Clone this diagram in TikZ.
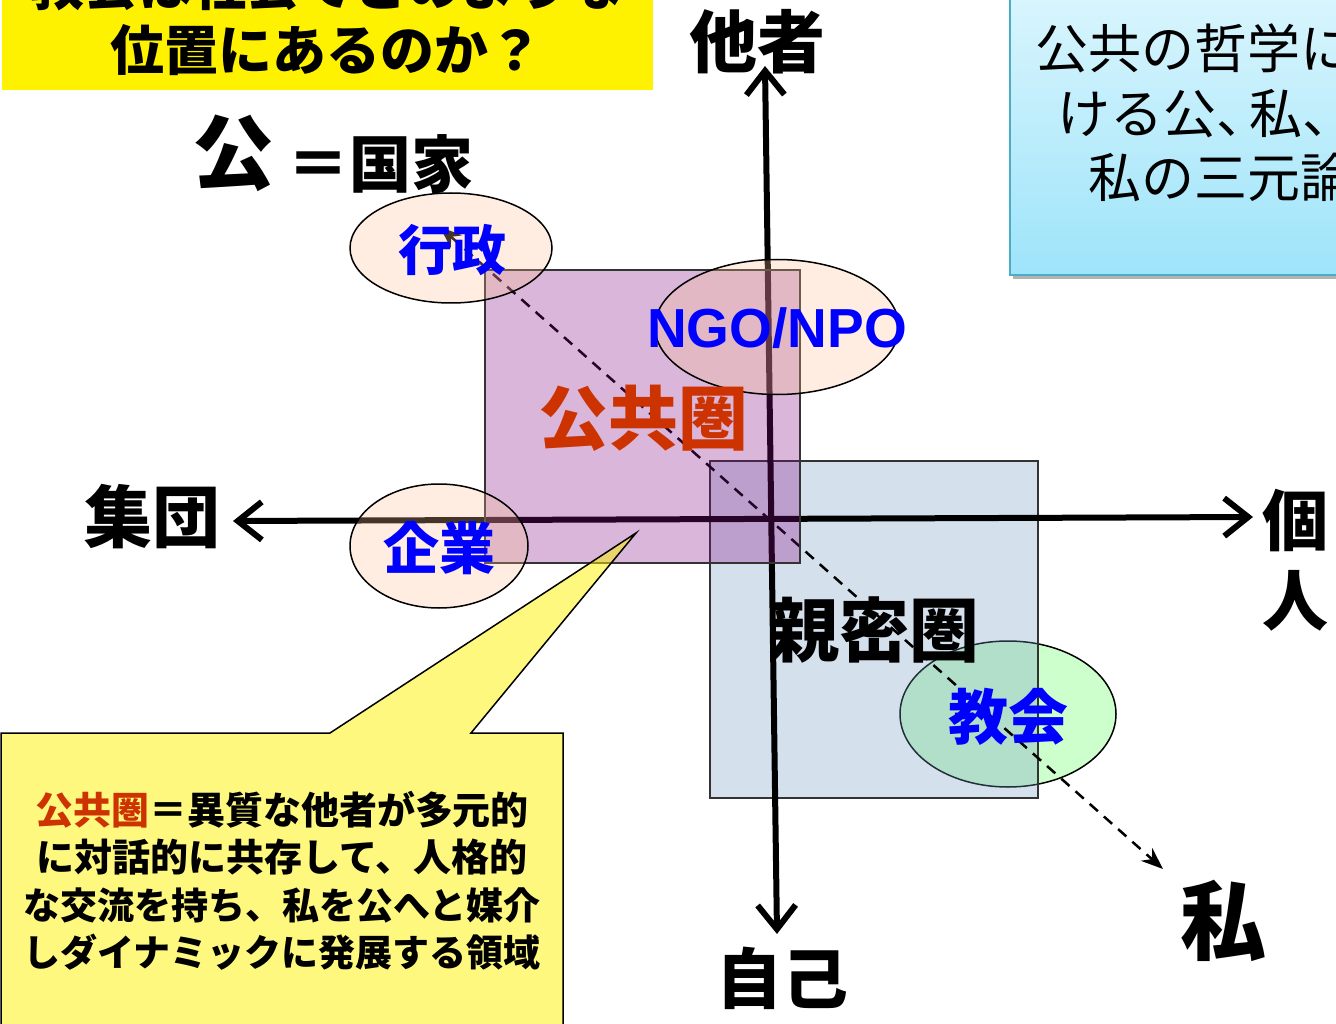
\documentclass[tikz,border=0pt]{standalone}
\usepackage{fontspec}
\newfontfamily\jp{Noto Sans CJK JP}
\setmainfont{Liberation Sans}
\usetikzlibrary{arrows.meta,shapes.geometric}
\newcommand\pxsize[1]{\fontsize{#1}{#1}\selectfont}
\definecolor{peach}{RGB}{250,192,144}
\definecolor{pinkp}{RGB}{132,12,132}
\definecolor{bluep}{RGB}{115,152,195}
\definecolor{greenp}{RGB}{204,255,204}
\definecolor{orgred}{RGB}{204,51,0}
\definecolor{tblue}{RGB}{0,0,255}
\definecolor{cyantop}{RGB}{220,246,253}
\definecolor{cyanbot}{RGB}{158,228,250}
\definecolor{cyanborder}{RGB}{75,172,198}
\begin{document}
\begin{tikzpicture}[x=1pt,y=-1pt,
  lbl/.style={inner sep=0pt, font=\jp\bfseries},
  ell/.style={ellipse, draw=black, line width=1.5pt, inner sep=0pt},
  peachell/.style={ell, fill=peach, fill opacity=0.28},
  areabox/.style={draw=black!80, line width=1.5pt},
  axisline/.style={line width=6pt, {Straight Barb[length=24pt,width=38pt]}-{Straight Barb[length=24pt,width=38pt]}},
  dasharrow/.style={line width=2.5pt, dash pattern=on 11pt off 8pt, {Stealth[length=22pt,width=17pt]}-{Stealth[length=22pt,width=17pt]}}]
\useasboundingbox (0,0) rectangle (1336,1024);

% title box
\fill[yellow] (2,-20) rectangle (653,90);
\node[lbl, align=center, font=\jp\bfseries\fontsize{54}{65}\selectfont] (title) at (327,17) {教会は社会でどのような\\位置にあるのか？};

% top-right box
\fill[black!30] (1013,-20) rectangle (1350,279);
\shade[top color=cyantop, bottom color=cyanbot, draw=cyanborder, line width=2pt] (1010,-20) rectangle (1350,275);
\node[inner sep=0pt, anchor=west, font=\jp\pxsize{53}] (tr1) at (1035,48) {公共の哲学にお};
\node[inner sep=0pt, anchor=west, font=\jp\pxsize{53}] (tr2) at (1057,114) {ける公、\hspace{-20pt}私、\hspace{-20pt}公共};
\node[inner sep=0pt, anchor=west, font=\jp\pxsize{53}] (tr3) at (1088,177) {私の三元論};

% church ellipse (under intimate sphere)
\node[ell, fill=greenp, minimum width=216pt, minimum height=146pt] (ekyokai) at (1008,714) {};

% intimate sphere
\draw[areabox, fill=bluep, fill opacity=0.3] (710,461) rectangle (1038,798);
\coordinate (sinmitsu) at (874,630);

% axes
\coordinate (atop) at (765,66);
\coordinate (abot) at (777,934);
\coordinate (aleft) at (233,521);
\coordinate (aright) at (1253,517);
\draw[axisline] (abot) -- (atop);
\draw[axisline] (aleft) -- (aright);

% dashed public-private arrow
\coordinate (dtop) at (440,227);
\coordinate (dbot) at (1163,869);
\draw[dasharrow] (dtop) -- (dbot);

% public sphere
\draw[areabox, fill=pinkp, fill opacity=0.3] (485,270) rectangle (800,563);

% peach ellipses
\node[peachell, minimum width=202pt, minimum height=110pt] (egyosei) at (451,248) {};
\node[peachell, minimum width=244pt, minimum height=135pt] (engo) at (777,327) {};
\node[peachell, minimum width=178pt, minimum height=124pt] (ekigyo) at (439,546) {};

% callout
\coordinate (ctip) at (636,533);
\draw[fill=yellow, fill opacity=0.5, line width=1.5pt]
  (1,733) -- (330,733) -- (ctip) -- (471,733) -- (563,733) -- (563,1030) -- (1,1030) -- cycle;
\node[lbl, align=center, font=\jp\bfseries\fontsize{38}{47.5}\selectfont] (ctext) at (282,881)
  {\textcolor{orgred}{公共圏}＝異質な他者が多元的\\に対話的に共存して、人格的\\{\fontsize{37}{47.5}\selectfont な交流を持ち、私を公へと媒介}\\{\fontsize{37}{47.5}\selectfont しダイナミックに発展する領域}};

% labels
\node[lbl, font=\jp\bfseries\pxsize{68}] (tasha) at (757,42) {他者};
\node[lbl, font=\jp\bfseries\pxsize{66}] (jiko) at (782,978) {自己};
\node[lbl, font=\jp\bfseries\pxsize{68}] (shudan) at (152,517) {集団};
\node[lbl, align=center, font=\jp\bfseries\fontsize{66}{80}\selectfont] (kojin) at (1295,560) {個\\人};
\node[lbl, font=\jp\bfseries\pxsize{86}] (watashi) at (1223,921) {私};
\node[lbl, font=\jp\bfseries\pxsize{82}] (ko) at (233,153) {公};
\node[lbl, font=\jp\bfseries\pxsize{62}] (kokka) at (380,164) {＝国家};

\node[lbl, text=tblue, font=\jp\bfseries\pxsize{54}] (tgyosei) at (452,250) {行政};
\node[lbl, text=tblue, font=\bfseries\pxsize{55}] (tngo) at (777,328) {NGO/NPO};
\node[lbl, text=tblue, font=\jp\bfseries\pxsize{56}] (tkigyo) at (439,548) {企業};
\node[lbl, text=tblue, font=\jp\bfseries\pxsize{60}] (tkyokai) at (1008,717) {教会};

\node[lbl, text=orgred, font=\jp\bfseries\pxsize{70}] (tkokyo) at (643,418) {公共圏};
\node[lbl, font=\jp\bfseries\pxsize{70}] (tshinmitsu) at (sinmitsu) {親密圏};
\end{tikzpicture}
\end{document}
